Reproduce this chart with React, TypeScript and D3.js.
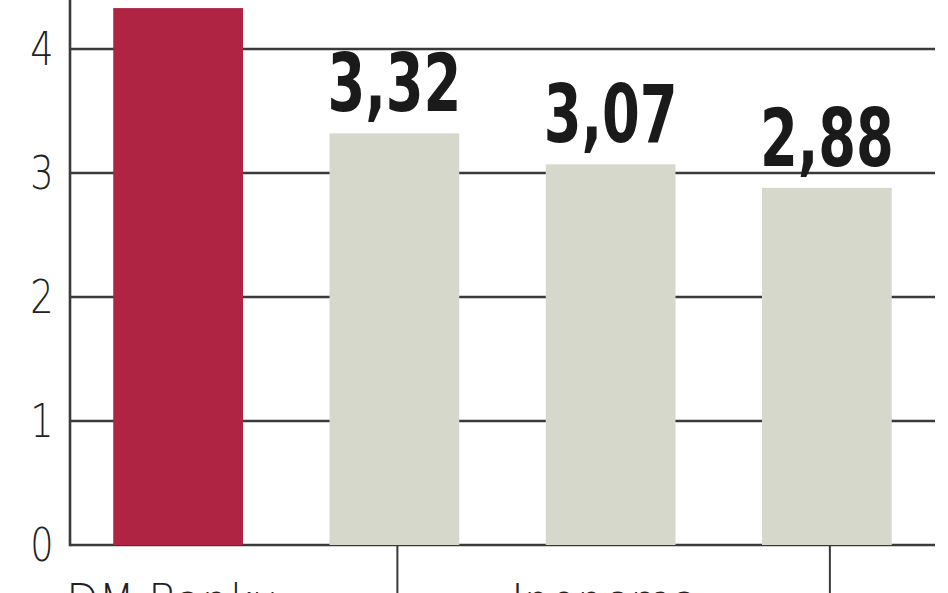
import React from "react";
import * as d3 from "d3";

// values
const bars = ["a", "b", "c", "d"];
const values = [4.33, 3.32, 3.07, 2.88];
const valueLabels = ["4,33", "3,32", "3,07", "2,88"];
const yTicks = [0, 1, 2, 3, 4];
const groupLabels = ["DM Banku", "Ipopema"];
const groupBars = [0, 2];
const dividerBars = [1, 3];

const W = 948;
const H = 593;
const RED = "#b02443";
const GREY = "#d7d8cc";
const INK = "#3a3a3a";

export default function App() {
  const x = d3
    .scaleBand<string>()
    .domain(bars)
    .range([70, 935])
    .paddingInner(0.4)
    .paddingOuter(0.2);
  const y = d3.scaleLinear().domain([0, 4]).range([545, 49]);

  return (
    <svg
      width={W}
      height={H}
      style={{ position: "absolute", left: 0, top: 0, display: "block", background: "#fff" }}
    >
      {/* grid */}
      {yTicks.map((t) => (
        <line key={"g" + t} x1={70} x2={935} y1={y(t)} y2={y(t)} stroke={INK} strokeWidth={2.6} />
      ))}
      <line x1={70} x2={70} y1={0} y2={y(0) + 1.3} stroke={INK} strokeWidth={2.6} />

      {/* tick labels */}
      {yTicks.map((t) => (
        <g key={"t" + t} transform={`translate(42,${y(t) + 16}) scale(0.78,1)`}>
          <text
            textAnchor="middle"
            fontFamily="DejaVu Sans"
            fontWeight={200}
            fontSize={47}
            fill="#222"
          >
            {t}
          </text>
        </g>
      ))}

      {/* bars */}
      {bars.map((b, i) => (
        <rect
          key={b}
          x={x(b)}
          width={x.bandwidth()}
          y={y(values[i])}
          height={y(0) - y(values[i])}
          fill={i === 0 ? RED : GREY}
        />
      ))}

      {/* value labels */}
      {bars.map((b, i) => (
        <text
          key={"v" + b}
          x={(x(b) ?? 0) + x.bandwidth() / 2}
          y={y(values[i]) - 22}
          textAnchor="middle"
          fontFamily="DejaVu Sans Condensed"
          fontWeight="bold"
          fontSize={80}
          textLength={134}
          lengthAdjust="spacingAndGlyphs"
          fill="#1a1a1a"
        >
          {valueLabels[i]}
        </text>
      ))}

      {/* group dividers */}
      {dividerBars.map((bi) => (
        <line
          key={"d" + bi}
          x1={(x(bars[bi]) ?? 0) + x.bandwidth() / 2 + 3}
          x2={(x(bars[bi]) ?? 0) + x.bandwidth() / 2 + 3}
          y1={y(0)}
          y2={H}
          stroke={INK}
          strokeWidth={2}
        />
      ))}

      {/* category labels, cut off by the bottom edge */}
      {groupLabels.map((l, i) => (
        <text
          key={l}
          x={(x(bars[groupBars[i]]) ?? 0) + x.bandwidth() / 2 - 6}
          y={617}
          textAnchor="middle"
          fontFamily="DejaVu Sans"
          fontWeight={200}
          fontSize={47}
          textLength={i === 0 ? 212 : 187}
          lengthAdjust="spacingAndGlyphs"
          fill="#222"
        >
          {l}
        </text>
      ))}
    </svg>
  );
}
